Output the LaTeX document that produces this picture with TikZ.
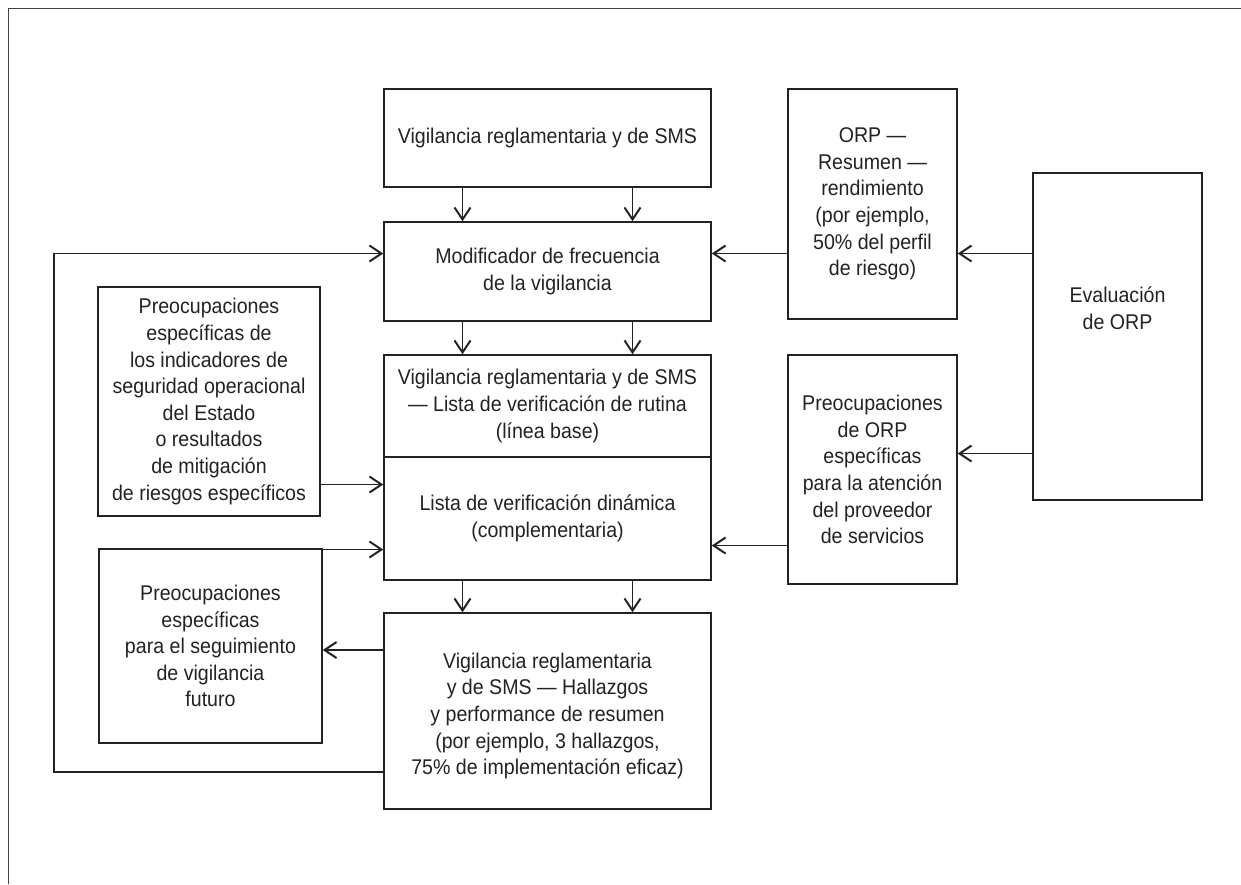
\documentclass[tikz,border=0pt]{standalone}
\usepackage{fontspec}
\setmainfont{Liberation Sans}[FakeStretch=0.92]
\usetikzlibrary{arrows.meta}
\definecolor{ink}{HTML}{222222}
\begin{document}
\begin{tikzpicture}[x=1pt,y=-1pt,
  every node/.style={font=\fontsize{21.3}{26.6}\selectfont, text=ink},
  box/.style={draw=ink, line width=1.5pt, inner sep=0pt, align=center},
  txt/.style={inner sep=0pt, align=center},
  link/.style={draw=ink, line width=1.3pt,
    -{Straight Barb[length=12pt,width=16pt,line width=2pt]}},
  frame/.style={draw=ink!85, line width=1.5pt}]

% page extent
\useasboundingbox (0,0) rectangle (1241,884);

% corner frame (top and left edges only)
\draw[frame] (8.5,884) -- (8.5,8.7) -- (1241,8.7);

% central column
\node[box, minimum width=327pt, minimum height=98pt] (A) at (547.5,138)
  {Vigilancia reglamentaria y de SMS};
\node[box, minimum width=327pt, minimum height=99pt] (B) at (547.5,271.5)
  {Modificador de frecuencia\\de la vigilancia};
\node[box, minimum width=327pt, minimum height=102pt] (Ct) at (547.5,406)
  {Vigilancia reglamentaria y de SMS\\— Lista de verificación de rutina\\(línea base)};
\node[box, minimum width=327pt, minimum height=123pt] (Cb) at (547.5,518.5)
  {Lista de verificación dinámica\\(complementaria)};
\node[box, minimum width=327pt, minimum height=196pt] (D) at (547.5,711) {};
\node[txt] (Dtext) at (547.5,716)
  {Vigilancia reglamentaria\\y de SMS — Hallazgos\\y performance de resumen\\(por ejemplo, 3 hallazgos,\\75\% de implementación eficaz)};

% left column
\node[box, minimum width=222pt, minimum height=229pt] (E) at (209,401.5)
  {Preocupaciones\\específicas de\\los indicadores de\\seguridad operacional\\del Estado\\o resultados\\de mitigación\\de riesgos específicos};
\node[box, minimum width=223pt, minimum height=194pt] (F) at (210.5,646)
  {Preocupaciones\\específicas\\para el seguimiento\\de vigilancia\\futuro};

% right columns
\node[box, minimum width=169pt, minimum height=230pt] (G) at (872.5,204)
  {ORP —\\Resumen —\\rendimiento\\(por ejemplo,\\50\% del perfil\\de riesgo)};
\node[box, minimum width=169pt, minimum height=229pt] (I) at (872.5,469.5)
  {Preocupaciones\\de ORP\\específicas\\para la atención\\del proveedor\\de servicios};
\node[box, minimum width=169pt, minimum height=327pt] (H) at (1117.5,336.5) {};
\node[txt] (Htext) at (1117.5,308) {Evaluación\\de ORP};

% row heights of the horizontal connectors
\coordinate (r1) at (0,253.5);
\coordinate (r2) at (0,453.5);
\coordinate (r3) at (0,484.5);
\coordinate (r4) at (0,545.5);
\coordinate (r5) at (0,549.5);
\coordinate (r6) at (0,650);
\coordinate (r7) at (0,772);
\coordinate (loopx) at (54,0);
\coordinate (fs) at (290,549.5);

% vertical flow down the central column
\foreach \dx in {-85,85} {
  \draw[link] ([xshift=\dx pt]A.south) -- ([xshift=\dx pt]B.north);
  \draw[link] ([xshift=\dx pt]B.south) -- ([xshift=\dx pt]Ct.north);
  \draw[link] ([xshift=\dx pt]Cb.south) -- ([xshift=\dx pt]D.north);
}

% inputs from the right
\draw[link] (G.west |- r1) -- (B.east |- r1);
\draw[link] (H.west |- r1) -- (G.east |- r1);
\draw[link] (H.west |- r2) -- (I.east |- r2);
\draw[link] (I.west |- r4) -- (Cb.east |- r4);

% inputs from the left
\draw[link] (E.east |- r3) -- (Cb.west |- r3);
\draw[link] (fs) -- (Cb.west |- r5);

% outputs of the findings box
\draw[link] (D.west |- r6) -- (F.east |- r6);
\draw[link] (D.west |- r7) -- (loopx |- r7) -- (loopx |- r1) -- (B.west |- r1);

\end{tikzpicture}
\end{document}
